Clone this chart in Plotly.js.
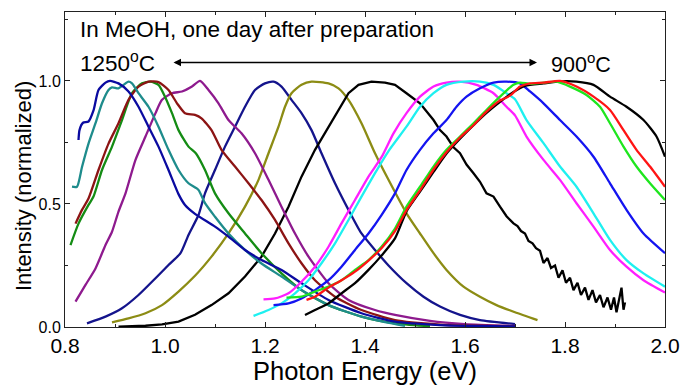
<!DOCTYPE html>
<html><head><meta charset="utf-8">
<script src="https://cdn.plot.ly/plotly-3.0.1.min.js"></script>
<style>html,body{margin:0;padding:0;background:#fff}#chart{width:683px;height:386px}</style>
</head><body><div id="chart"></div>
<script>
// ---- data ----
const x_navyA = [0.827,0.829,0.836,0.847,0.857,0.867,0.881,0.89,0.907,0.927,0.947,0.967,0.987,1.007,1.027,1.04,1.06,1.10,1.127,1.16,1.193,1.233,1.273,1.327,1.393,1.46,1.55,1.62,1.70];
const y_navyA = [0.76,0.80,0.83,0.835,0.88,0.963,0.993,1.0,0.99,0.957,0.895,0.814,0.733,0.638,0.54,0.496,0.46,0.408,0.367,0.313,0.272,0.232,0.178,0.11,0.056,0.022,0.008,0.004,0.002];

const x_teal = [0.814,0.824,0.834,0.847,0.861,0.874,0.887,0.894,0.907,0.917,0.927,0.934,0.947,0.967,0.987,1.007,1.027,1.047,1.067,1.08,1.10,1.127,1.16,1.193,1.233,1.273,1.327,1.393,1.44,1.48];
const y_teal = [0.57,0.57,0.65,0.745,0.828,0.909,0.963,0.974,0.97,0.984,0.997,0.99,0.95,0.895,0.814,0.72,0.638,0.584,0.557,0.503,0.448,0.38,0.313,0.258,0.205,0.15,0.089,0.042,0.02,0.005];

const x_maroon = [0.821,0.834,0.847,0.867,0.887,0.907,0.927,0.947,0.967,0.987,1.007,1.024,1.04,1.06,1.073,1.093,1.113,1.14,1.167,1.193,1.22,1.247,1.273,1.30,1.34,1.393,1.46,1.55,1.62,1.70];
const y_maroon = [0.42,0.476,0.522,0.638,0.745,0.828,0.923,0.977,0.997,0.995,0.963,0.909,0.869,0.862,0.848,0.80,0.72,0.652,0.584,0.516,0.435,0.34,0.259,0.19,0.123,0.069,0.028,0.01,0.005,0.003];

const x_dgreen = [0.811,0.827,0.847,0.857,0.874,0.894,0.914,0.934,0.954,0.971,0.987,1.0,1.014,1.027,1.047,1.062,1.08,1.10,1.127,1.16,1.193,1.233,1.273,1.327,1.393,1.46,1.53];
const y_dgreen = [0.333,0.42,0.496,0.53,0.638,0.733,0.841,0.95,0.99,0.997,0.984,0.936,0.869,0.80,0.733,0.705,0.638,0.543,0.462,0.38,0.30,0.218,0.15,0.089,0.042,0.015,0.003];

const x_purple = [0.821,0.841,0.861,0.881,0.894,0.907,0.921,0.941,0.961,0.981,0.994,1.014,1.034,1.054,1.07,1.087,1.107,1.127,1.153,1.18,1.207,1.233,1.26,1.287,1.327,1.367,1.42,1.46,1.53,1.60,1.70];
const y_purple = [0.103,0.171,0.238,0.333,0.387,0.469,0.543,0.679,0.774,0.869,0.923,0.95,0.957,0.977,1.0,0.963,0.909,0.841,0.787,0.706,0.598,0.489,0.38,0.286,0.178,0.11,0.069,0.049,0.025,0.012,0.004];

const x_navyB = [0.844,0.881,0.914,0.947,0.981,1.007,1.031,1.047,1.067,1.08,1.10,1.12,1.14,1.16,1.18,1.20,1.217,1.233,1.253,1.273,1.293,1.313,1.34,1.367,1.393,1.42,1.447,1.483,1.517,1.55,1.59,1.63,1.70];
const y_navyB = [0.015,0.042,0.076,0.13,0.198,0.252,0.30,0.374,0.455,0.543,0.638,0.733,0.814,0.895,0.963,0.99,0.997,0.977,0.923,0.869,0.80,0.706,0.584,0.476,0.38,0.313,0.25,0.178,0.123,0.083,0.049,0.028,0.012];

const x_olive = [0.894,0.927,0.961,0.994,1.027,1.06,1.093,1.127,1.16,1.187,1.207,1.227,1.24,1.253,1.273,1.293,1.327,1.347,1.367,1.393,1.42,1.447,1.483,1.51,1.537,1.563,1.597,1.63,1.663,1.70,1.745];
const y_olive = [0.019,0.035,0.056,0.089,0.144,0.208,0.286,0.38,0.489,0.598,0.706,0.814,0.895,0.95,0.984,0.997,0.99,0.97,0.923,0.828,0.706,0.598,0.462,0.38,0.30,0.232,0.164,0.123,0.089,0.06,0.028];

const x_blackA = [0.907,0.961,0.994,1.027,1.06,1.093,1.127,1.16,1.193,1.22,1.247,1.273,1.30,1.327,1.347,1.367,1.387,1.413,1.44,1.46,1.483,1.51,1.537,1.55,1.563,1.577,1.59,1.603,1.617,1.63,1.643,1.657,1.67,1.683,1.697,
  1.705,1.712,1.72,1.727,1.735,1.742,1.75,1.757,1.765,1.772,1.78,1.787,1.795,1.802,1.81,1.817,1.825,1.832,1.84,1.847,1.855,1.862,1.87,1.877,1.885,1.892,1.898,1.903,1.908,1.913,1.917,1.92];
const y_blackA = [0.001,0.005,0.011,0.022,0.05,0.089,0.137,0.205,0.286,0.38,0.489,0.611,0.72,0.814,0.882,0.95,0.984,0.997,0.993,0.984,0.95,0.909,0.841,0.80,0.774,0.73,0.706,0.66,0.625,0.59,0.543,0.53,0.489,0.45,0.421,
  0.41,0.39,0.38,0.35,0.34,0.32,0.31,0.26,0.28,0.24,0.25,0.20,0.23,0.18,0.20,0.15,0.18,0.13,0.16,0.11,0.15,0.10,0.13,0.08,0.12,0.07,0.12,0.06,0.11,0.16,0.07,0.10];

const x_magenta = [1.197,1.22,1.247,1.273,1.30,1.327,1.353,1.38,1.407,1.433,1.457,1.483,1.51,1.537,1.563,1.59,1.623,1.657,1.683,1.70,1.723,1.757,1.79,1.823,1.857,1.89,1.923,1.957,2.0];
const y_magenta = [0.112,0.116,0.137,0.184,0.245,0.326,0.421,0.516,0.611,0.69,0.787,0.869,0.936,0.977,0.993,0.997,0.984,0.95,0.895,0.86,0.774,0.679,0.598,0.503,0.408,0.313,0.245,0.19,0.14];

const x_cyan = [1.177,1.207,1.233,1.26,1.287,1.313,1.34,1.367,1.393,1.42,1.447,1.483,1.51,1.537,1.563,1.597,1.63,1.657,1.683,1.70,1.723,1.757,1.79,1.823,1.857,1.89,1.923,1.957,2.0];
const y_cyan = [0.045,0.069,0.096,0.137,0.19,0.259,0.34,0.435,0.53,0.625,0.715,0.814,0.895,0.95,0.984,0.997,0.997,0.984,0.95,0.925,0.841,0.747,0.652,0.57,0.462,0.354,0.272,0.218,0.164];

const x_blue = [1.217,1.247,1.273,1.30,1.327,1.353,1.38,1.407,1.433,1.46,1.483,1.51,1.537,1.563,1.583,1.603,1.63,1.657,1.683,1.71,1.73,1.757,1.79,1.823,1.857,1.89,1.923,1.957,2.0];
const y_blue = [0.089,0.096,0.116,0.15,0.19,0.245,0.313,0.38,0.455,0.543,0.638,0.72,0.787,0.841,0.895,0.936,0.97,0.993,0.997,0.99,0.957,0.909,0.841,0.774,0.692,0.584,0.476,0.38,0.30];

const x_lgreen = [1.243,1.273,1.30,1.327,1.353,1.38,1.407,1.433,1.46,1.483,1.51,1.537,1.563,1.59,1.617,1.643,1.67,1.697,1.71,1.73,1.757,1.783,1.81,1.843,1.87,1.89,1.917,1.943,1.97,2.0];
const y_lgreen = [0.119,0.123,0.144,0.164,0.19,0.232,0.272,0.326,0.40,0.489,0.57,0.652,0.72,0.774,0.828,0.882,0.936,0.984,0.993,0.988,0.993,0.997,0.977,0.943,0.895,0.828,0.733,0.652,0.584,0.516];

const x_red = [1.283,1.30,1.327,1.353,1.38,1.407,1.433,1.46,1.483,1.51,1.537,1.563,1.59,1.617,1.643,1.67,1.69,1.71,1.73,1.757,1.79,1.823,1.857,1.89,1.917,1.943,1.97,2.0];
const y_red = [0.11,0.123,0.16,0.19,0.225,0.27,0.32,0.39,0.475,0.555,0.64,0.71,0.77,0.82,0.875,0.92,0.94,0.977,0.99,0.993,1.0,0.977,0.936,0.882,0.80,0.72,0.652,0.57];

const x_blackB = [1.28,1.30,1.327,1.353,1.38,1.407,1.433,1.46,1.483,1.51,1.537,1.563,1.59,1.617,1.643,1.67,1.697,1.72,1.757,1.79,1.823,1.857,1.89,1.923,1.957,1.983,2.0];
const y_blackB = [0.049,0.069,0.096,0.137,0.178,0.232,0.29,0.36,0.47,0.55,0.63,0.705,0.765,0.82,0.87,0.915,0.955,0.98,0.99,0.998,0.997,0.984,0.936,0.895,0.841,0.774,0.692];

const xTickVals = [0.8,1.0,1.2,1.4,1.6,1.8,2.0];
const xTickText = ['0.8','1.0','1.2','1.4','1.6','1.8','2.0'];
const yTickVals = [0,0.5,1.0];
const yTickText = ['0.0','0.5','1.0'];

const series = [
  {x:x_navyB, y:y_navyB, c:'#14148c'},
  {x:x_olive, y:y_olive, c:'#8c8c14'},
  {x:x_blackA, y:y_blackA, c:'#000000', lin:true},
  {x:x_purple, y:y_purple, c:'#8e1a8e'},
  {x:x_dgreen, y:y_dgreen, c:'#148c14'},
  {x:x_maroon, y:y_maroon, c:'#8c1414'},
  {x:x_teal, y:y_teal, c:'#1e8c8c'},
  {x:x_navyA, y:y_navyA, c:'#0a0aa0'},
  {x:x_magenta, y:y_magenta, c:'#ff1eff'},
  {x:x_cyan, y:y_cyan, c:'#1ef0f0'},
  {x:x_blue, y:y_blue, c:'#1414f0'},
  {x:x_blackB, y:y_blackB, c:'#000000'},
  {x:x_lgreen, y:y_lgreen, c:'#1ee61e'},
  {x:x_red, y:y_red, c:'#ff1414'}
];

const traces = series.map(s => ({
  x: s.x, y: s.y, type: 'scatter', mode: 'lines',
  line: {color: s.c, width: 2.3, shape: s.lin ? 'linear' : 'spline', smoothing: 0.6},
  hoverinfo: 'skip', showlegend: false
}));

const reg = '"Liberation Sans", Arial, sans-serif';

const layout = {
  width: 683, height: 386,
  margin: {l: 65, r: 18, t: 12, b: 59},
  paper_bgcolor: '#ffffff', plot_bgcolor: '#ffffff',
  showlegend: false,
  xaxis: {
    range: [0.8, 2.0], tickvals: xTickVals, ticktext: xTickText,
    ticks: 'inside', ticklen: 5, tickwidth: 1, tickcolor: '#222',
    minor: {dtick: 0.1, tick0: 0.8, ticks: 'inside', ticklen: 3, tickcolor: '#222'},
    showline: true, linecolor: '#222', linewidth: 1, mirror: 'ticks',
    showgrid: false, zeroline: false,
    tickfont: {family: reg, size: 21, color: '#000'}
  },
  yaxis: {
    range: [0, 1.28], tickvals: yTickVals, ticktext: yTickText,
    ticks: 'inside', ticklen: 5, tickwidth: 1, tickcolor: '#222',
    minor: {tickvals: [0.25, 0.75, 1.25], ticks: 'inside', ticklen: 3, tickcolor: '#222'},
    showline: true, linecolor: '#222', linewidth: 1, mirror: 'ticks',
    showgrid: false, zeroline: false,
    tickfont: {family: reg, size: 16, color: '#000'}
  },
  annotations: [
    {xref: 'x', yref: 'y', x: 0.826, y: 1.207, xanchor: 'left', yanchor: 'middle', showarrow: false,
     text: 'In MeOH, one day after preparation', font: {family: reg, size: 22.5, color: '#000'}},
    {xref: 'x', yref: 'y', x: 0.826, y: 1.075, xanchor: 'left', yanchor: 'middle', showarrow: false,
     text: '1250<sup>o</sup>C', font: {family: reg, size: 22.5, color: '#000'}},
    {xref: 'x', yref: 'y', x: 1.768, y: 1.072, xanchor: 'left', yanchor: 'middle', showarrow: false,
     text: '900<sup>o</sup>C', font: {family: reg, size: 21.5, color: '#000'}},
    {xref: 'x', yref: 'y', axref: 'x', ayref: 'y', x: 1.744, y: 1.075, ax: 1.014, ay: 1.075,
     text: '', showarrow: true, arrowside: 'end+start', arrowhead: 2, arrowsize: 1, arrowwidth: 1.5, arrowcolor: '#000'},
    {xref: 'paper', yref: 'paper', x: -0.068, y: 0.448, xanchor: 'center', yanchor: 'middle', showarrow: false,
     textangle: -90, text: 'Intensity (normalized)', font: {family: reg, size: 22, color: '#000'}},
    {xref: 'paper', yref: 'paper', x: 0.5, y: -0.089, xanchor: 'center', yanchor: 'top', showarrow: false,
     text: 'Photon Energy (eV)', font: {family: reg, size: 25.5, color: '#000'}}
  ]
};

Plotly.newPlot('chart', traces, layout, {staticPlot: true, displayModeBar: false});
</script>
</body></html>
